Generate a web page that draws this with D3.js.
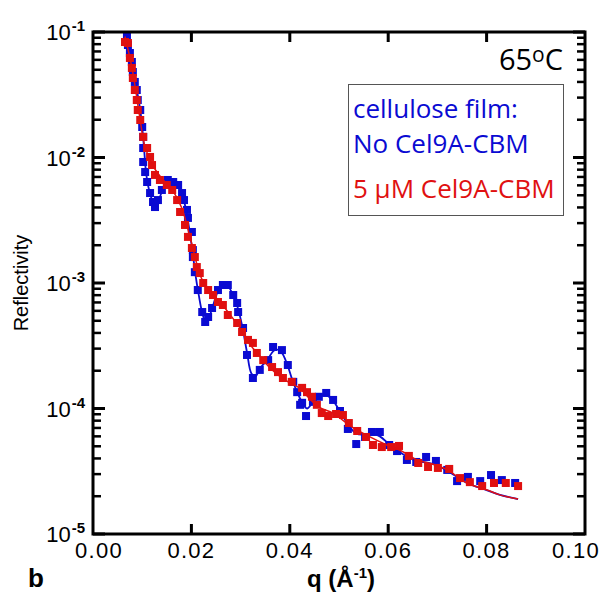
<!DOCTYPE html>
<html lang="en">
<head>
<meta charset="UTF-8" />
<title>Reflectivity 65°C</title>
<style>
  body { margin: 0; background: #fff; }
  svg { font-family: "Liberation Sans", Arial, sans-serif; }
</style>
</head>
<body>
<svg id="chart" width="604" height="601"></svg>
<script src="https://d3js.org/d3.v7.min.js"></script>
<script>
// cellulose film, no Cel9A-CBM (blue)
const blueQ = [0.0069, 0.0071, 0.0075, 0.0079, 0.0081, 0.0085, 0.0089, 0.0091, 0.0096, 0.0100, 0.0102, 0.0102,
  0.0102, 0.0106, 0.0110, 0.0116, 0.0122, 0.0126, 0.0132, 0.0140, 0.0152, 0.0163, 0.0173, 0.0181, 0.0185, 0.0191,
  0.0193, 0.0201, 0.0203, 0.0203, 0.0207, 0.0213, 0.0222, 0.0228, 0.0234, 0.0242, 0.0254, 0.0264, 0.0274, 0.0285,
  0.0293, 0.0295, 0.0305, 0.0313, 0.0325, 0.0339, 0.0356, 0.0366, 0.0384, 0.0396, 0.0407, 0.0415, 0.0421, 0.0425,
  0.0433, 0.0447, 0.0459, 0.0474, 0.0488, 0.0502, 0.0518, 0.0535, 0.0553, 0.0567, 0.0583, 0.0602, 0.0618, 0.0638,
  0.0657, 0.0677, 0.0697, 0.0720, 0.0740, 0.0762, 0.0787, 0.0809, 0.0831, 0.0858];
const blueR = [0.0946, 0.0788, 0.0680, 0.0577, 0.0480, 0.0400, 0.0345, 0.0287, 0.0239, 0.0175, 0.0146, 0.0119,
  0.00921, 0.00766, 0.00638, 0.00521, 0.00442, 0.00403, 0.00458, 0.00551, 0.00662, 0.00638, 0.00604, 0.00521, 0.00458, 0.00382,
  0.00330, 0.00255, 0.00183, 0.00161, 0.00122, 0.000879, 0.000587, 0.000489, 0.000536, 0.000632, 0.000879, 0.000964, 0.000964, 0.000802,
  0.000693, 0.000587, 0.000438, 0.000267, 0.000175, 0.000203, 0.000243, 0.000309, 0.000292, 0.000222, 0.000163, 0.000135, 0.000107, 0.000111,
  0.0000871, 0.000113, 0.000124, 0.000133, 0.000117, 0.0000955, 0.0000687, 0.0000521, 0.0000593, 0.0000650, 0.0000650, 0.0000512, 0.0000458, 0.0000389,
  0.0000375, 0.0000411, 0.0000382, 0.0000324, 0.0000264, 0.0000285, 0.0000264, 0.0000295, 0.0000269, 0.0000255];

// 5 uM Cel9A-CBM (red)
const redQ = [0.0065, 0.0071, 0.0075, 0.0079, 0.0081, 0.0085, 0.0089, 0.0091, 0.0096, 0.0102, 0.0110, 0.0116,
  0.0120, 0.0126, 0.0136, 0.0150, 0.0161, 0.0171, 0.0177, 0.0187, 0.0193, 0.0201, 0.0207, 0.0211, 0.0217, 0.0224,
  0.0234, 0.0244, 0.0254, 0.0264, 0.0274, 0.0293, 0.0303, 0.0315, 0.0325, 0.0333, 0.0346, 0.0364, 0.0376, 0.0386,
  0.0404, 0.0425, 0.0435, 0.0445, 0.0455, 0.0465, 0.0478, 0.0494, 0.0508, 0.0520, 0.0537, 0.0555, 0.0569, 0.0587,
  0.0606, 0.0622, 0.0642, 0.0661, 0.0681, 0.0701, 0.0724, 0.0746, 0.0766, 0.0791, 0.0815, 0.0839, 0.0864];
const redR = [0.0832, 0.0817, 0.0621, 0.0517, 0.0430, 0.0345, 0.0287, 0.0239, 0.0199, 0.0146, 0.0119, 0.0101,
  0.00871, 0.00726, 0.00662, 0.00604, 0.00551, 0.00458, 0.00368, 0.00290, 0.00233, 0.00190, 0.00161, 0.00134, 0.00120, 0.00100,
  0.000879, 0.000802, 0.000706, 0.000668, 0.000556, 0.000480, 0.000407, 0.000352, 0.000333, 0.000277, 0.000243, 0.000214, 0.000195, 0.000175,
  0.000163, 0.000146, 0.000135, 0.000124, 0.000107, 0.0000920, 0.0000871, 0.0000904, 0.0000887, 0.0000766, 0.0000662, 0.0000593, 0.0000512, 0.0000493,
  0.0000493, 0.0000503, 0.0000419, 0.0000368, 0.0000342, 0.0000336, 0.0000330, 0.0000279, 0.0000259, 0.0000241, 0.0000255, 0.0000255, 0.0000241];

// fitted curves
const blueFitQ = [0.0069, 0.0075, 0.0081, 0.0089, 0.0096, 0.0100, 0.0104, 0.0108, 0.0114, 0.0122, 0.0128, 0.0134,
  0.0142, 0.0152, 0.0163, 0.0173, 0.0181, 0.0188, 0.0195, 0.0203, 0.0208, 0.0215, 0.0222, 0.0228, 0.0236, 0.0244,
  0.0254, 0.0264, 0.0274, 0.0285, 0.0293, 0.0303, 0.0313, 0.0322, 0.0330, 0.0340, 0.0356, 0.0368, 0.0380, 0.0392,
  0.0405, 0.0415, 0.0425, 0.0435, 0.0447, 0.0462, 0.0474, 0.0488, 0.0502, 0.0518, 0.0535, 0.0553, 0.0567, 0.0583,
  0.0602, 0.0620, 0.0640, 0.0660, 0.0680, 0.0700, 0.0720, 0.0760, 0.0800, 0.0827, 0.0864];
const blueFitR = [0.0946, 0.068, 0.048, 0.0345, 0.024, 0.0175, 0.0115, 0.0075, 0.0055, 0.0044, 0.0041, 0.0046,
  0.0056, 0.0064, 0.0064, 0.0060, 0.0052, 0.0040, 0.0028, 0.0017, 0.00118, 0.00080, 0.00058, 0.00050, 0.00054, 0.00066,
  0.00086, 0.00096, 0.00094, 0.00080, 0.00066, 0.00046, 0.00028, 0.00019, 0.00018, 0.00021, 0.00025, 0.00029, 0.00029, 0.00024,
  0.00017, 0.000135, 0.000112, 0.000100, 0.000112, 0.000125, 0.000128, 0.000115, 0.000095, 0.000075, 0.000063, 0.000062, 0.000063, 0.000060,
  0.000052, 0.000046, 0.000041, 0.000038, 0.000037, 0.000035, 0.000032, 0.0000255, 0.0000224, 0.0000205, 0.0000190];
const redFitQ = [0.0065, 0.0080, 0.0095, 0.0105, 0.0120, 0.0140, 0.0160, 0.0180, 0.0200, 0.0220, 0.0240, 0.0260,
  0.0280, 0.0300, 0.0320, 0.0340, 0.0360, 0.0380, 0.0400, 0.0420, 0.0440, 0.0460, 0.0488, 0.0522, 0.0557, 0.0598,
  0.0624, 0.0659, 0.0691, 0.0720, 0.0760, 0.0801, 0.0827, 0.0864];
const redFitR = [0.092, 0.050, 0.021, 0.0125, 0.0088, 0.0068, 0.0056, 0.0040, 0.0021, 0.0011, 0.00083, 0.00069,
  0.00055, 0.00043, 0.00032, 0.00026, 0.00021, 0.00018, 0.00016, 0.000145, 0.00012, 0.000102, 0.000092, 0.000073, 0.000061, 0.000051,
  0.0000465, 0.000039, 0.000036, 0.0000324, 0.0000255, 0.0000224, 0.0000205, 0.0000190];

const xTicks = [0.02, 0.04, 0.06, 0.08];
const xLabels = [0, 0.02, 0.04, 0.06, 0.08, 0.10];
const yDecades = [1e-5, 1e-4, 1e-3, 1e-2, 1e-1];
const legendLines = ["cellulose film:", "No Cel9A-CBM", "5 μM Cel9A-CBM"];

const blue = "#0a0ad2", red = "#e01010";
const svg = d3.select("#chart");
const L = 93, R = 585, T = 32, B = 534;

const x = d3.scaleLinear().domain([0, 0.1]).range([L, R]);
const y = d3.scaleLog().domain([1e-5, 1e-1]).range([B, T]);

// minor ticks 2..9 in each decade
const yMinor = [];
yDecades.slice(0, -1).forEach(d => { for (let k = 2; k <= 9; k++) yMinor.push(d * k); });

// data
const blueData = blueQ.map((q, i) => [q, blueR[i]]);
const redData = redQ.map((q, i) => [q, redR[i]]);
const blueFit = blueFitQ.map((q, i) => [q, blueFitR[i]]);
const redFit = redFitQ.map((q, i) => [q, redFitR[i]]);

const line = d3.line().x(d => x(d[0])).y(d => y(d[1])).curve(d3.curveCatmullRom);
const ms = 8;

svg.append("g").attr("fill", blue).selectAll("rect").data(blueData).join("rect")
  .attr("x", d => x(d[0]) - ms / 2).attr("y", d => y(d[1]) - ms / 2)
  .attr("width", ms).attr("height", ms);
svg.append("path").datum(blueFit).attr("d", line)
  .attr("fill", "none").attr("stroke", blue).attr("stroke-width", 1.8);
svg.append("g").attr("fill", red).selectAll("rect").data(redData).join("rect")
  .attr("x", d => x(d[0]) - ms / 2).attr("y", d => y(d[1]) - ms / 2)
  .attr("width", ms).attr("height", ms);
svg.append("path").datum(redFit).attr("d", line)
  .attr("fill", "none").attr("stroke", red).attr("stroke-width", 1.5);

// frame
svg.append("rect").attr("x", L).attr("y", T).attr("width", R - L).attr("height", B - T)
  .attr("fill", "none").attr("stroke", "#000").attr("stroke-width", 3);

// inward ticks on all four sides
const tk = svg.append("g").attr("fill", "#000");
tk.selectAll(".xb").data(xTicks).join("rect").attr("class", "xb")
  .attr("x", d => x(d) - 1.5).attr("y", B - 10).attr("width", 3).attr("height", 10);
tk.selectAll(".xt").data(xTicks).join("rect").attr("class", "xt")
  .attr("x", d => x(d) - 1.5).attr("y", T).attr("width", 3).attr("height", 10);
tk.selectAll(".yl").data(yDecades).join("rect").attr("class", "yl")
  .attr("x", L).attr("y", d => y(d) - 1.5).attr("width", 12).attr("height", 3);
tk.selectAll(".yr").data(yDecades).join("rect").attr("class", "yr")
  .attr("x", R - 12).attr("y", d => y(d) - 1.5).attr("width", 12).attr("height", 3);
tk.selectAll(".ml").data(yMinor).join("rect").attr("class", "ml")
  .attr("x", L).attr("y", d => y(d) - 1.25).attr("width", 8).attr("height", 2.5);
tk.selectAll(".mr").data(yMinor).join("rect").attr("class", "mr")
  .attr("x", R - 8).attr("y", d => y(d) - 1.25).attr("width", 8).attr("height", 2.5);

// x labels (end labels nudged inside like the original)
svg.append("g").selectAll("text").data(xLabels).join("text")
  .attr("x", d => Math.max(99, Math.min(x(d), 576))).attr("y", 558).attr("text-anchor", "middle")
  .attr("font-size", 22).attr("letter-spacing", 1.3).text(d => d3.format(".2f")(d));

// y labels 10^n
const yl = svg.append("g").selectAll("text").data(yDecades).join("text")
  .attr("x", 85).attr("y", d => y(d) + 8).attr("text-anchor", "end").attr("font-size", 22);
yl.append("tspan").text("10");
yl.append("tspan").attr("dx", 1).attr("dy", -9).attr("font-size", 15).attr("font-weight", "bold")
  .text(d => "-" + Math.round(-Math.log10(d)));

// axis titles
svg.append("text").attr("transform", `translate(28,${(T + B) / 2}) rotate(-90)`)
  .attr("text-anchor", "middle").attr("font-size", 20).text("Reflectivity");
const xt = svg.append("text").attr("x", 307).attr("y", 587).attr("font-size", 24).attr("font-weight", "bold");
xt.append("tspan").text("q  (Å");
xt.append("tspan").attr("dy", -9).attr("font-size", 15).text("-1");
xt.append("tspan").attr("dy", 9).text(")");
svg.append("text").attr("x", 28).attr("y", 587).attr("font-size", 26).attr("font-weight", "bold").text("b");

// temperature
const tt = svg.append("text").attr("x", 563).attr("y", 70).attr("text-anchor", "end")
  .attr("font-family", "'Open Sans', sans-serif").attr("font-size", 29);
tt.append("tspan").text("65");
tt.append("tspan").attr("dy", -8).attr("font-size", 21).text("o");
tt.append("tspan").attr("dy", 8).text("C");

// legend box
svg.append("rect").attr("x", 348.5).attr("y", 84.5).attr("width", 215).attr("height", 131)
  .attr("fill", "#fff").attr("stroke", "#555").attr("stroke-width", 1);
svg.append("g").attr("font-family", "'Open Sans', sans-serif").attr("font-size", 26)
  .selectAll("text").data(legendLines).join("text")
  .attr("x", 353).attr("y", (d, i) => [118, 153, 198][i])
  .attr("fill", (d, i) => i < 2 ? blue : red).text(d => d);
</script>
</body>
</html>
